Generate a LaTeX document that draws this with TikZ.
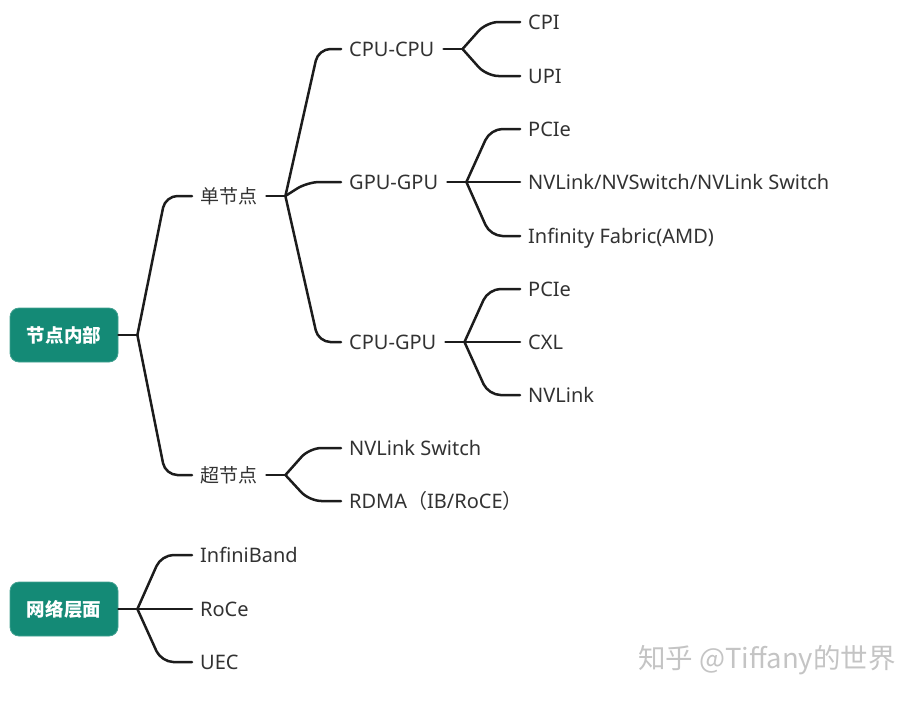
\documentclass[tikz,border=0pt]{standalone}
\usepackage{fontspec}
\setmainfont{Noto Sans}
\newfontfamily\cjk{Noto Sans CJK SC}
\usetikzlibrary{calc}
\definecolor{rootteal}{RGB}{20,138,118}
\definecolor{txt}{RGB}{50,50,50}
\definecolor{lnk}{RGB}{28,28,28}
\definecolor{wm}{RGB}{196,196,196}
\tikzset{
  leaf/.style={anchor=west,inner sep=0pt,text height=14pt,text depth=0pt,
    font=\fontsize{20}{24}\selectfont,text=txt},
  cleaf/.style={leaf,font=\cjk\fontsize{19}{24}\selectfont},
  rootbox/.style={rectangle,rounded corners=9pt,fill=rootteal,draw=rootteal!80!white,
    line width=0.8pt,minimum width=108pt,minimum height=54pt,inner sep=0pt,
    text=white,font=\cjk\bfseries\fontsize{18.5}{22}\selectfont},
  conn/.style={draw=lnk,line width=2.5pt,rounded corners=12pt,line cap=round},
}
% branch from coordinate #2 to node #3, horizontal bend offset #1
\newcommand\conn[3][26pt]{\draw[conn] (#2) -- ($(#2|-#3.west)+(#1,0)$) -- ([xshift=-8pt]#3.west);}
% stub line from parent #1 to its branch coordinate #2
\newcommand\stub[2]{\draw[conn] ([xshift=9pt]#1.east) -- (#2);}
\begin{document}
\begin{tikzpicture}[x=1pt,y=-1pt]
\useasboundingbox (0,0) rectangle (920,702);
% roots
\node[rootbox] (r1) at (64,335) {节点内部};
\node[rootbox] (r2) at (64,609) {网络层面};
% level 1
\node[cleaf] (dan) at (200,196) {单节点};
\node[cleaf] (chao) at (200,475) {超节点};
\node[leaf] (ib) at (200,555) {InfiniBand};
\node[leaf] (roce) at (200,609) {RoCe};
\node[leaf] (uec) at (200,662) {UEC};
% level 2
\node[leaf] (cc) at (349,49) {CPU-CPU};
\node[leaf] (gg) at (349,182) {GPU-GPU};
\node[leaf] (cg) at (349,342) {CPU-GPU};
\node[leaf] (nvs) at (349,448) {NVLink Switch};
\node[leaf] (rdma) at (349,501) {RDMA{\cjk（}IB/RoCE{\cjk）}};
% level 3
\node[leaf] (cpi) at (528,22) {CPI};
\node[leaf] (upi) at (528,76) {UPI};
\node[leaf] (pcie1) at (528,129) {PCIe};
\node[leaf] (nvl) at (528,182) {NVLink/NVSwitch/NVLink Switch};
\node[leaf] (inf) at (528,236) {Infinity Fabric(AMD)};
\node[leaf] (pcie2) at (528,289) {PCIe};
\node[leaf] (cxl) at (528,342) {CXL};
\node[leaf] (nvl2) at (528,395) {NVLink};
% branch points
\coordinate (b1) at ([xshift=19pt]r1.east);
\coordinate (b2) at ([xshift=19pt]r2.east);
\coordinate (bd) at ([xshift=28pt]dan.east);
\coordinate (bc) at ([xshift=28pt]chao.east);
\coordinate (bcc) at ([xshift=28pt]cc.east);
\coordinate (bgg) at ([xshift=28pt]gg.east);
\coordinate (bcg) at ([xshift=28pt]cg.east);
% connectors
\draw[conn] (r1.east) -- (b1);
\draw[conn] (r2.east) -- (b2);
\conn[28pt]{b1}{dan}
\conn[28pt]{b1}{chao}
\conn[24pt]{b2}{ib}
\conn{b2}{roce}
\conn[24pt]{b2}{uec}
\stub{dan}{bd}
\stub{chao}{bc}
\conn[33pt]{bd}{cc}
\conn[22pt]{bd}{gg}
\conn[33pt]{bd}{cg}
\conn[24pt]{bc}{nvs}
\conn[24pt]{bc}{rdma}
\stub{cc}{bcc}
\stub{gg}{bgg}
\stub{cg}{bcg}
\conn[24pt]{bcc}{cpi}
\conn[24pt]{bcc}{upi}
\conn[24pt]{bgg}{pcie1}
\conn{bgg}{nvl}
\conn[24pt]{bgg}{inf}
\conn[24pt]{bcg}{pcie2}
\conn{bcg}{cxl}
\conn[24pt]{bcg}{nvl2}
% watermark
\node[anchor=west,inner sep=0pt,text=wm,font=\cjk\fontsize{27.5}{30}\selectfont] (wmk) at (638,660) {知乎 @Tiffany的世界};
\end{tikzpicture}
\end{document}
